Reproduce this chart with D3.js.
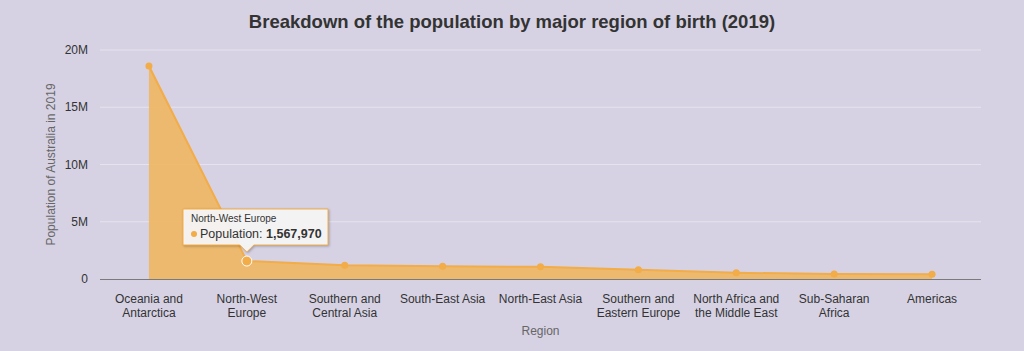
<!DOCTYPE html>
<html>
<head>
<script src="https://d3js.org/d3.v7.min.js"></script>
<style>
  body { margin: 0; background: #d6d2e4; font-family: "Liberation Sans", Arial, sans-serif; }
  svg text { font-family: "Liberation Sans", Arial, sans-serif; }
</style>
</head>
<body>
<svg id="chart" width="1024" height="351"></svg>
<script>
const regions = ['Oceania and Antarctica', 'North-West Europe', 'Southern and Central Asia',
  'South-East Asia', 'North-East Asia', 'Southern and Eastern Europe',
  'North Africa and the Middle East', 'Sub-Saharan Africa', 'Americas'];
const regionLines = [['Oceania and', 'Antarctica'], ['North-West', 'Europe'], ['Southern and', 'Central Asia'],
  ['South-East Asia'], ['North-East Asia'], ['Southern and', 'Eastern Europe'],
  ['North Africa and', 'the Middle East'], ['Sub-Saharan', 'Africa'], ['Americas']];
const population = [18600000, 1567970, 1200000, 1120000, 1060000, 810000, 540000, 440000, 410000];
const yTicks = [0, 5e6, 10e6, 15e6, 20e6];
const yTickLabels = ['0', '5M', '10M', '15M', '20M'];
const hoverIndex = 1;

const svg = d3.select('svg#chart');
const plotL = 100, plotR = 981, plotT = 50, plotB = 279;

const x = d3.scaleBand().domain(regions).range([plotL, plotR]);
const y = d3.scaleLinear().domain([0, 20e6]).range([plotB, plotT]);
const cx = d => x(d) + x.bandwidth() / 2;

svg.append('rect').attr('width', 1024).attr('height', 351).attr('fill', '#d6d2e4');

// title
svg.append('text').attr('x', 512).attr('y', 28).attr('text-anchor', 'middle')
  .attr('font-size', 18.5).attr('font-weight', 'bold').attr('fill', '#333')
  .text('Breakdown of the population by major region of birth (2019)');

// grid
svg.selectAll('line.grid').data(yTicks.slice(1)).join('line')
  .attr('class', 'grid')
  .attr('x1', plotL).attr('x2', plotR)
  .attr('y1', d => y(d)).attr('y2', d => y(d))
  .attr('stroke', '#e6e3ee').attr('stroke-width', 1);

// y tick labels
svg.selectAll('text.ytick').data(yTicks).join('text')
  .attr('class', 'ytick')
  .attr('x', 88).attr('y', d => y(d) + 4)
  .attr('text-anchor', 'end').attr('font-size', 12).attr('fill', '#333')
  .text((d, i) => yTickLabels[i]);

// y axis title
svg.append('text')
  .attr('transform', `translate(55,${(plotT + plotB) / 2}) rotate(-90)`)
  .attr('text-anchor', 'middle').attr('font-size', 12).attr('fill', '#666')
  .text('Population of Australia in 2019');

const data = regions.map((r, i) => ({ r, v: population[i] }));

// area
const area = d3.area().x(d => cx(d.r)).y0(plotB).y1(d => y(d.v));
svg.append('path').datum(data).attr('d', area)
  .attr('fill', '#efb660').attr('fill-opacity', 0.9);

const line = d3.line().x(d => cx(d.r)).y(d => y(d.v));
svg.append('path').datum(data).attr('d', line)
  .attr('fill', 'none').attr('stroke', '#f2ac48').attr('stroke-width', 2);

// x axis line
svg.append('line').attr('x1', plotL).attr('x2', plotR).attr('y1', plotB + 0.5).attr('y2', plotB + 0.5)
  .attr('stroke', '#7a7a7a').attr('stroke-width', 1);

// markers
svg.selectAll('circle.pt').data(data.filter((d, i) => i !== hoverIndex)).join('circle')
  .attr('class', 'pt')
  .attr('cx', d => cx(d.r)).attr('cy', d => y(d.v)).attr('r', 3.5)
  .attr('fill', '#f2ac48');

const hv = data[hoverIndex];
svg.append('circle').attr('cx', cx(hv.r)).attr('cy', y(hv.v)).attr('r', 5)
  .attr('fill', '#f2ac48').attr('stroke', '#fff').attr('stroke-width', 1);

// x tick labels
const xl = svg.selectAll('text.xtick').data(regions).join('text')
  .attr('class', 'xtick')
  .attr('x', d => cx(d)).attr('y', 303)
  .attr('text-anchor', 'middle').attr('font-size', 12).attr('fill', '#333');
xl.each(function(d, i) {
  const t = d3.select(this);
  regionLines[i].forEach((s, j) => {
    t.append('tspan').attr('x', cx(d)).attr('dy', j === 0 ? 0 : 14).text(s);
  });
});

// x axis title
svg.append('text').attr('x', (plotL + plotR) / 2).attr('y', 335)
  .attr('text-anchor', 'middle').attr('font-size', 12).attr('fill', '#666')
  .text('Region');

// tooltip
const tx = cx(hv.r), ty = y(hv.v);
const bx = 183, by = 209, bw = 145, bh = 36;
const tip = svg.append('g');
tip.append('path')
  .attr('d', `M${bx},${by} h${bw} v${bh} H${tx + 7} l-7,7 l-7,-7 H${bx} Z`)
  .attr('fill', '#f7f7f7').attr('fill-opacity', 0.95)
  .attr('stroke', '#f2ac48').attr('stroke-width', 1)
  .style('filter', 'drop-shadow(1px 1px 1px rgba(0,0,0,0.25))');
tip.append('text').attr('x', bx + 8).attr('y', by + 13)
  .attr('font-size', 10).attr('fill', '#333').text(hv.r);
tip.append('circle').attr('cx', bx + 11).attr('cy', by + 25).attr('r', 3).attr('fill', '#f2ac48');
const t2 = tip.append('text').attr('x', bx + 17).attr('y', by + 29)
  .attr('font-size', 12.5).attr('fill', '#333');
t2.append('tspan').text('Population: ');
t2.append('tspan').attr('font-weight', 'bold').text(d3.format(',')(hv.v));
</script>
</body>
</html>
